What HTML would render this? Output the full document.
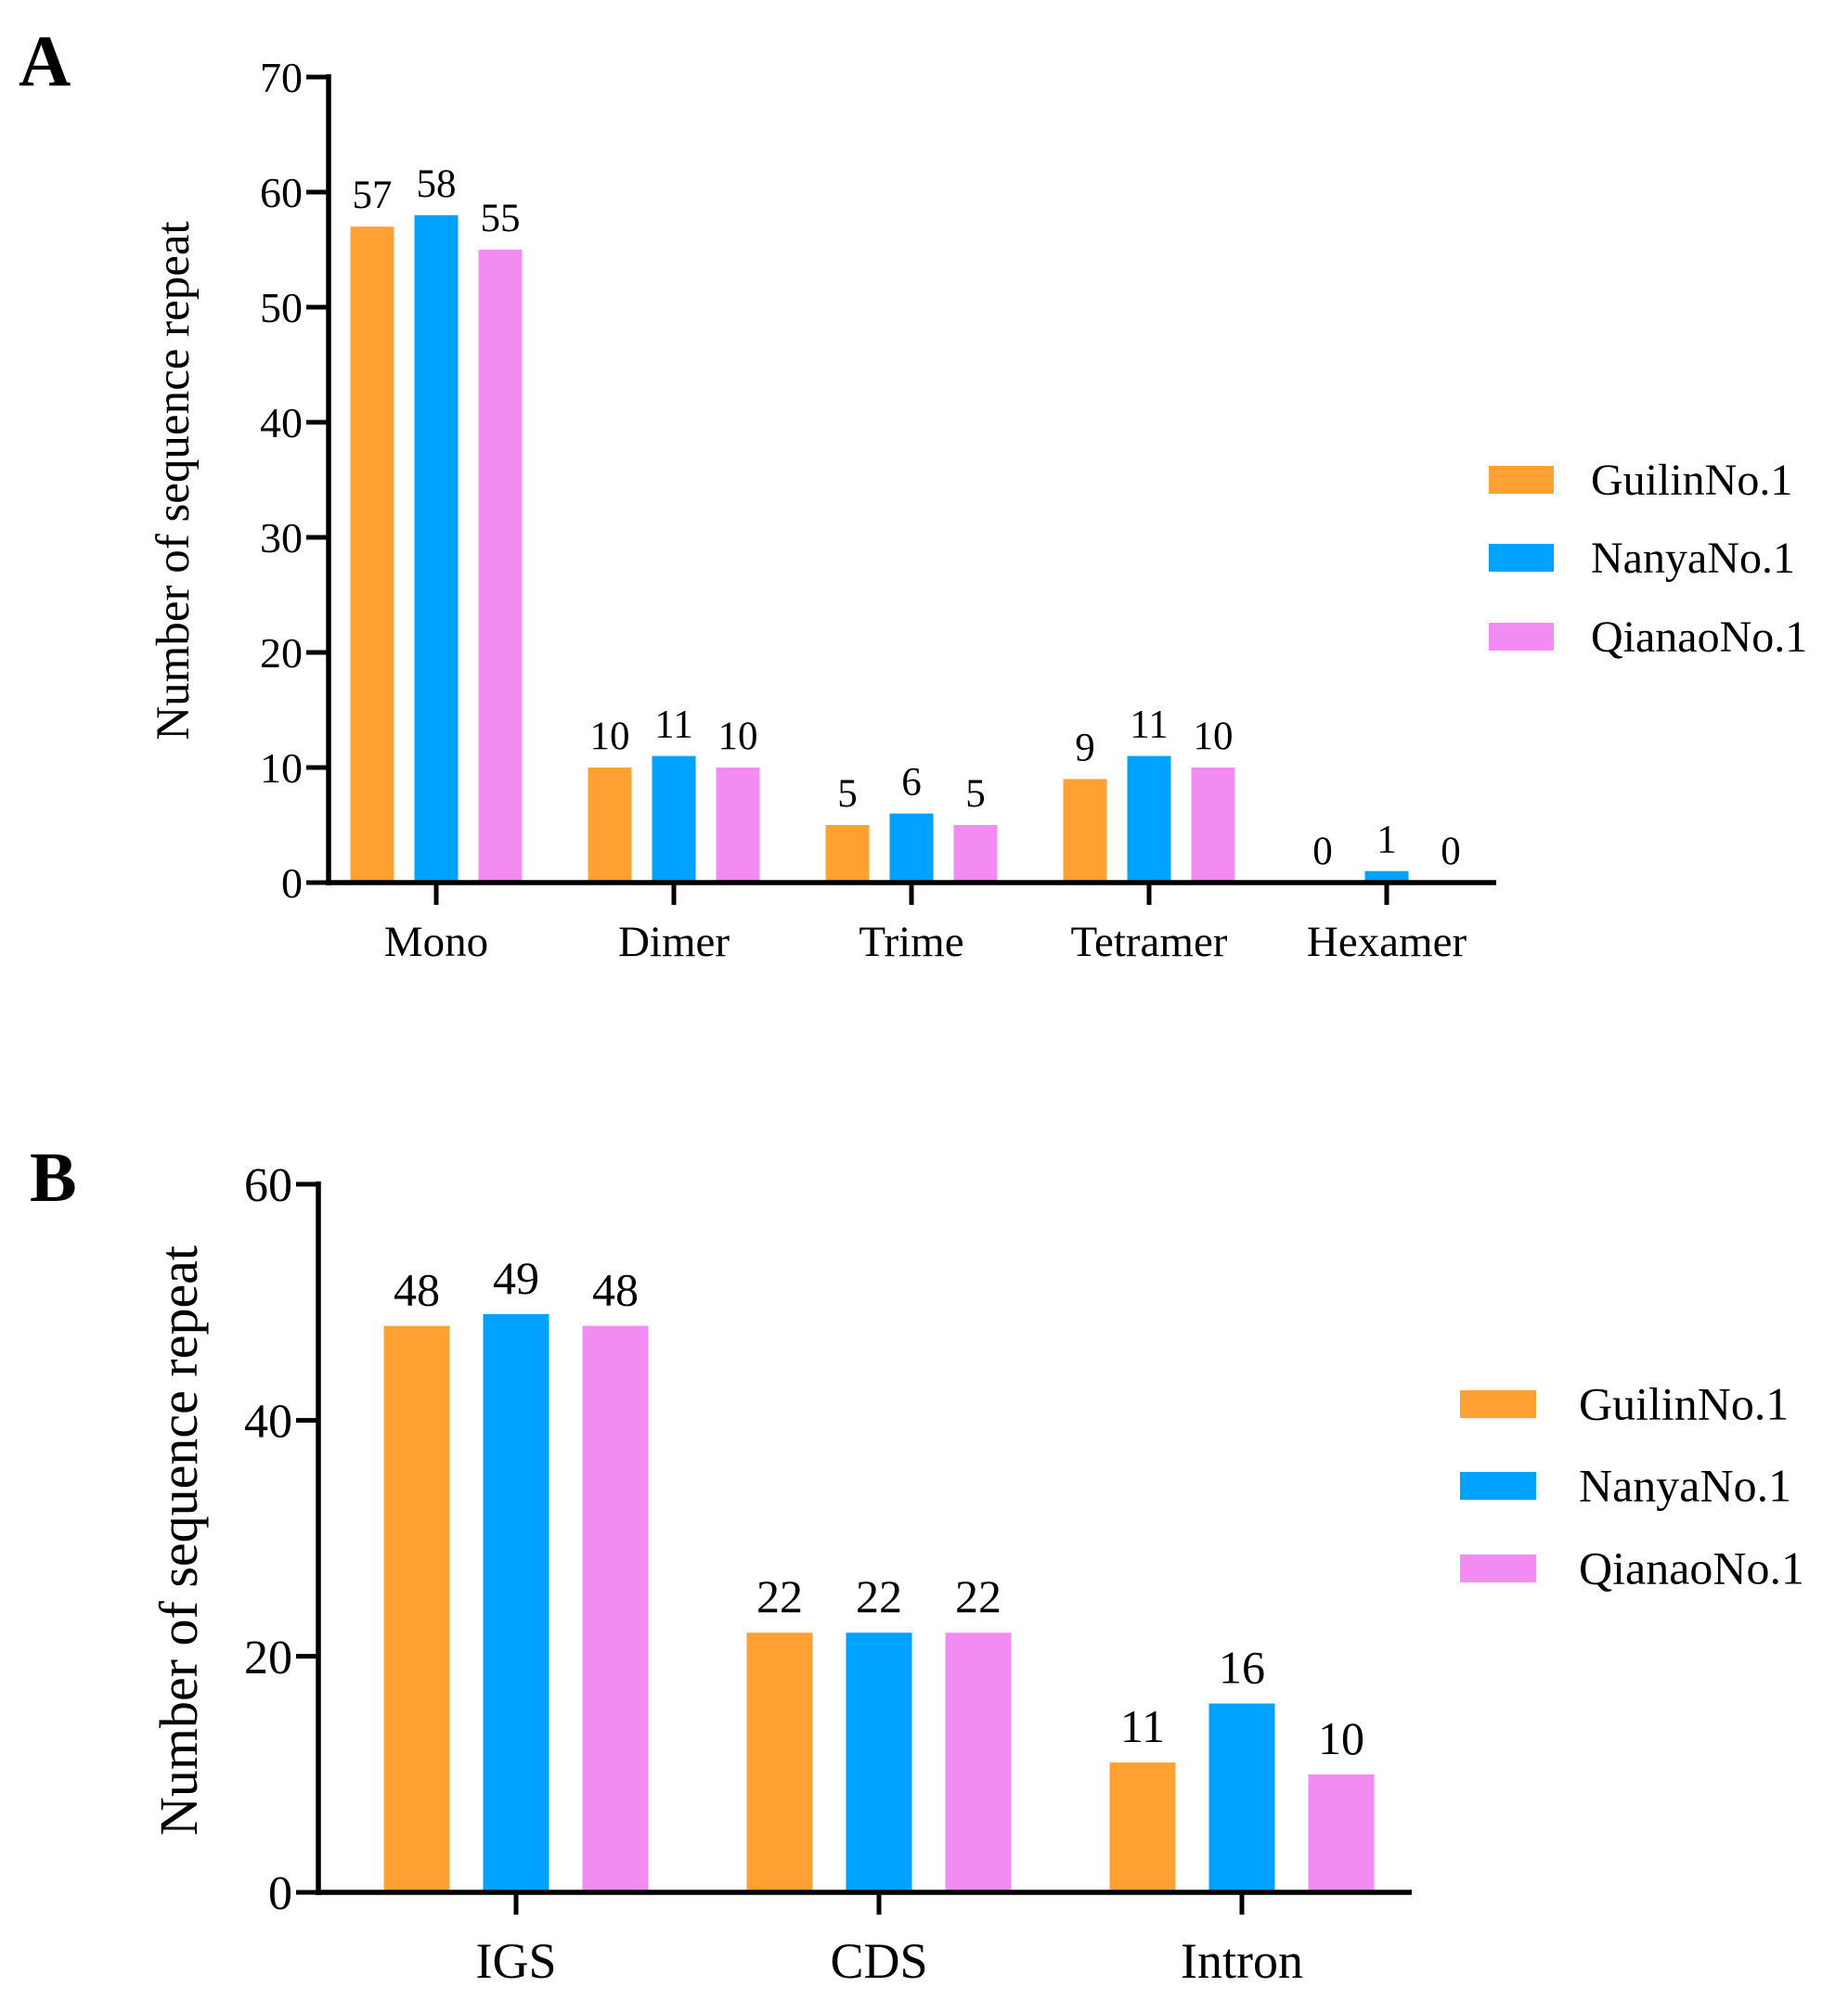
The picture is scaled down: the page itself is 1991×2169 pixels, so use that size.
<!DOCTYPE html>
<html><head><meta charset="utf-8"><style>
html,body{margin:0;padding:0;background:#fff;}
svg{display:block;font-family:"Liberation Serif",serif;}
</style></head><body>
<svg id="c" width="1991" height="2169" viewBox="0 0 1991 2169"></svg>
<script>
const seriesNames = ["GuilinNo.1","NanyaNo.1","QianaoNo.1"];
const colors = ["#FFA033","#00A2FF","#F28CF2"];
const catsA = ["Mono","Dimer","Trime","Tetramer","Hexamer"];
const guilinA = [57,10,5,9,0];
const nanyaA = [58,11,6,11,1];
const qianaoA = [55,10,5,10,0];
const ticksA = [0,10,20,30,40,50,60,70];
const catsB = ["IGS","CDS","Intron"];
const guilinB = [48,22,11];
const nanyaB = [49,22,16];
const qianaoB = [48,22,10];
const ticksB = [0,20,40,60];

const NS="http://www.w3.org/2000/svg";
const svg=document.getElementById('c');
function mk(tag,attrs,parent,text){const e=document.createElementNS(NS,tag);for(const k in attrs)e.setAttribute(k,attrs[k]);if(text!==undefined)e.textContent=text;(parent||svg).appendChild(e);return e;}

function chart(cfg){
  const g=mk('g',{});
  
  
  const y=v=>cfg.y0-(v-cfg.ymin)/(cfg.ymax-cfg.ymin)*(cfg.y0-cfg.yTop);
  const xc=i=>cfg.c0+i*cfg.step;
  const L=mk('text',{x:cfg.letterX,y:cfg.letterY,'font-size':cfg.letterSize,'font-weight':'bold'},g,cfg.letter);
  
  
  const data=[cfg.s1,cfg.s2,cfg.s3];
  data.forEach((arr,si)=>{arr.forEach((v,i)=>{
    const cx=xc(i)+(si-1)*cfg.off;
    const r=mk('rect',{x:cx-cfg.bw/2,y:y(v),width:cfg.bw,height:cfg.y0-y(v),fill:colors[si]},g);
    
    
    const t=mk('text',{x:cx,y:y(v)-cfg.valGap,'font-size':cfg.valSize,'text-anchor':'middle'},g,String(v));
    
    
  });});
  const ya=mk('line',{x1:cfg.ax,y1:cfg.yTop-3,x2:cfg.ax,y2:cfg.y0+3,stroke:'#000','stroke-width':5.5},g);
  
  
  const xa=mk('line',{x1:cfg.ax-3,y1:cfg.y0,x2:cfg.xEnd,y2:cfg.y0,stroke:'#000','stroke-width':5.5},g);
  
  
  cfg.ticks.forEach(v=>{
    mk('line',{x1:cfg.ax-24,y1:y(v),x2:cfg.ax,y2:y(v),stroke:'#000','stroke-width':5},g);
    const t=mk('text',{x:cfg.ax-28,y:y(v)+cfg.tickSize*0.35,'font-size':cfg.tickSize,'text-anchor':'end'},g,String(v));
    
    
  });
  cfg.cats.forEach((c,i)=>{
    mk('line',{x1:xc(i),y1:cfg.y0,x2:xc(i),y2:cfg.y0+24,stroke:'#000','stroke-width':5},g);
    const t=mk('text',{x:xc(i),y:cfg.catY,'font-size':cfg.catSize,'text-anchor':'middle'},g,c);
    
    
  });
  const yt=mk('text',{x:0,y:0,'font-size':cfg.titleSize,'text-anchor':'middle',transform:`translate(${cfg.titleX},${cfg.titleY}) rotate(-90)`},g,'Number of sequence repeat');
  
  
  seriesNames.forEach((n,si)=>{
    const cy=cfg.legY[si];
    const r=mk('rect',{x:cfg.legX,y:cy-15,width:cfg.legW,height:30,fill:colors[si]},g);
    
    
    const t=mk('text',{x:cfg.legTX,y:cy+cfg.legSize*0.33,'font-size':cfg.legSize},g,n);
    
    
  });
}
chart({name:'chart-a',letter:'A',letterX:20,letterY:92,letterSize:78,cats:catsA,s1:guilinA,s2:nanyaA,s3:qianaoA,ticks:ticksA,
 ymin:0,ymax:70,y0:951,yTop:83,ax:354,xEnd:1612,c0:470,step:256,off:69,bw:47,valGap:20,valSize:43,
 tickSize:46,catY:1030,catSize:47,titleX:203,titleY:518,titleSize:51,legX:1604,legW:70,legY:[517,601,686],legTX:1714,legSize:48});
chart({name:'chart-b',letter:'B',letterX:32,letterY:1294,letterSize:76,cats:catsB,s1:guilinB,s2:nanyaB,s3:qianaoB,ticks:ticksB,
 ymin:0,ymax:60,y0:2039,yTop:1276,ax:343,xEnd:1521,c0:556,step:391,off:107,bw:71,valGap:22,valSize:50,
 tickSize:52,catY:2131,catSize:54,titleX:212,titleY:1660,titleSize:58,legX:1573,legW:82,legY:[1513,1601,1690],legTX:1701,legSize:50});
</script>
</body></html>
